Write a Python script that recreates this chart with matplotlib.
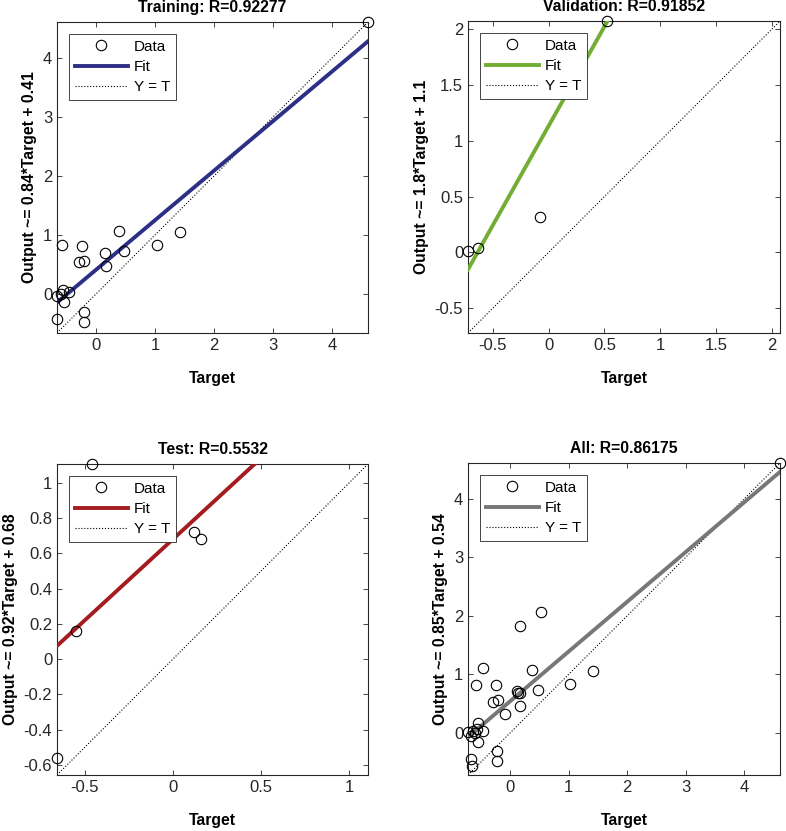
"""
Regression plots (Training / Validation / Test / All), MATLAB plotregression style.
Output: out.png
"""
import numpy as np
import matplotlib
matplotlib.use('Agg')
import matplotlib.pyplot as plt
from matplotlib.ticker import FormatStrFormatter

plt.rcParams.update({
    "font.family": ["Liberation Sans", "DejaVu Sans"],
    "axes.unicode_minus": False,
    "axes.linewidth": 0.8,
    "axes.edgecolor": "#262626",
    "xtick.color": "#262626", "ytick.color": "#262626",
    "xtick.direction": "in", "ytick.direction": "in",
    "xtick.major.size": 3.5, "ytick.major.size": 3.5,
    "xtick.major.width": 0.6, "ytick.major.width": 0.6,
    "xtick.top": True, "ytick.right": True,
    "xtick.labelsize": 12, "ytick.labelsize": 12,
})

# --- data ---
train_target = [4.61, -0.59, -0.24, 0.38, 1.42, 1.03, -0.29, -0.21, 0.14, 0.16,
                0.47, -0.67, -0.57, -0.47, -0.55, -0.60, -0.22, -0.22, -0.67]
train_output = [4.61, 0.82, 0.81, 1.07, 1.05, 0.83, 0.53, 0.56, 0.68, 0.46,
                0.73, -0.05, 0.06, 0.03, -0.15, -0.01, -0.31, -0.48, -0.44]

val_target = [-0.72, -0.63, -0.08, 0.52]
val_output = [0.01, 0.04, 0.32, 2.07]

test_target = [-0.46, -0.657, -0.55, 0.12, 0.16]
test_output = [1.107, -0.56, 0.16, 0.72, 0.68]

# point only visible in the "All" panel
extra_target = [0.165]
extra_output = [1.82]

titles = ["Training: R=0.92277", "Validation: R=0.91852",
          "Test: R=0.5532", "All: R=0.86175"]
ylabels = ["Output ~= 0.84*Target + 0.41", "Output ~= 1.8*Target + 1.1",
           "Output ~= 0.92*Target + 0.68", "Output ~= 0.85*Target + 0.54"]
fit_slope = [0.84, 1.78, 0.92, 0.85]
fit_intercept = [0.41, 1.13, 0.68, 0.54]
fit_colors = ["#2d2f86", "#72ad34", "#a51c20", "#777777"]

xticks = [[0, 1, 2, 3, 4], [-0.5, 0, 0.5, 1, 1.5, 2],
          [-0.5, 0, 0.5, 1], [0, 1, 2, 3, 4]]
yticks = [[0, 1, 2, 3, 4], [-0.5, 0, 0.5, 1, 1.5, 2],
          [-0.6, -0.4, -0.2, 0, 0.2, 0.4, 0.6, 0.8, 1], [0, 1, 2, 3, 4]]

all_target = train_target + val_target + test_target + extra_target
all_output = train_output + val_output + test_output + extra_output
sets = [(train_target, train_output), (val_target, val_output),
        (test_target, test_output), (all_target, all_output)]

W, H = 786, 831
fig = plt.figure(figsize=(W / 100, H / 100), dpi=100)
# axes boxes in pixels: (left, top, size)
boxes = [(57, 22, 311), (468, 21, 312), (57, 464, 311), (468, 463, 312)]

for i, (t, o) in enumerate(sets):
    l, tp, s = boxes[i]
    ax = fig.add_axes([l / W, 1 - (tp + s) / H, s / W, s / H])
    t = np.array(t); o = np.array(o)
    lo = min(t.min(), o.min())
    hi = max(t.max(), o.max())
    xs = np.array([lo, hi])

    ax.plot(t, o, 'o', mfc='none', mec='black', ms=7.5, mew=0.8,
            label="Data", zorder=4, clip_on=False)
    ax.plot(xs, fit_slope[i] * xs + fit_intercept[i], color=fit_colors[i],
            lw=2.8, label="Fit", zorder=3)
    ax.plot(xs, xs, ':', color='black', lw=0.8, label="Y = T", zorder=2)

    ax.set_xlim(lo, hi)
    ax.set_ylim(lo, hi)
    ax.set_xticks(xticks[i])
    ax.set_yticks(yticks[i])
    ax.xaxis.set_major_formatter(FormatStrFormatter('%g'))
    ax.yaxis.set_major_formatter(FormatStrFormatter('%g'))

    ax.set_title(titles[i], fontsize=11.3, fontweight='bold', pad=7)
    ax.set_xlabel("Target", fontsize=11.3, fontweight='bold', labelpad=13)
    ax.set_ylabel(ylabels[i], fontsize=11.3, fontweight='bold', labelpad=4)

    leg = ax.legend(loc="upper left", fontsize=11, frameon=True, fancybox=False,
                    edgecolor='#262626', framealpha=1.0, borderaxespad=0.8,
                    borderpad=0.35, labelspacing=0.42, handlelength=3.5,
                    handletextpad=0.4)
    leg.get_frame().set_linewidth(0.6)

fig.savefig("out.png", dpi=100)
